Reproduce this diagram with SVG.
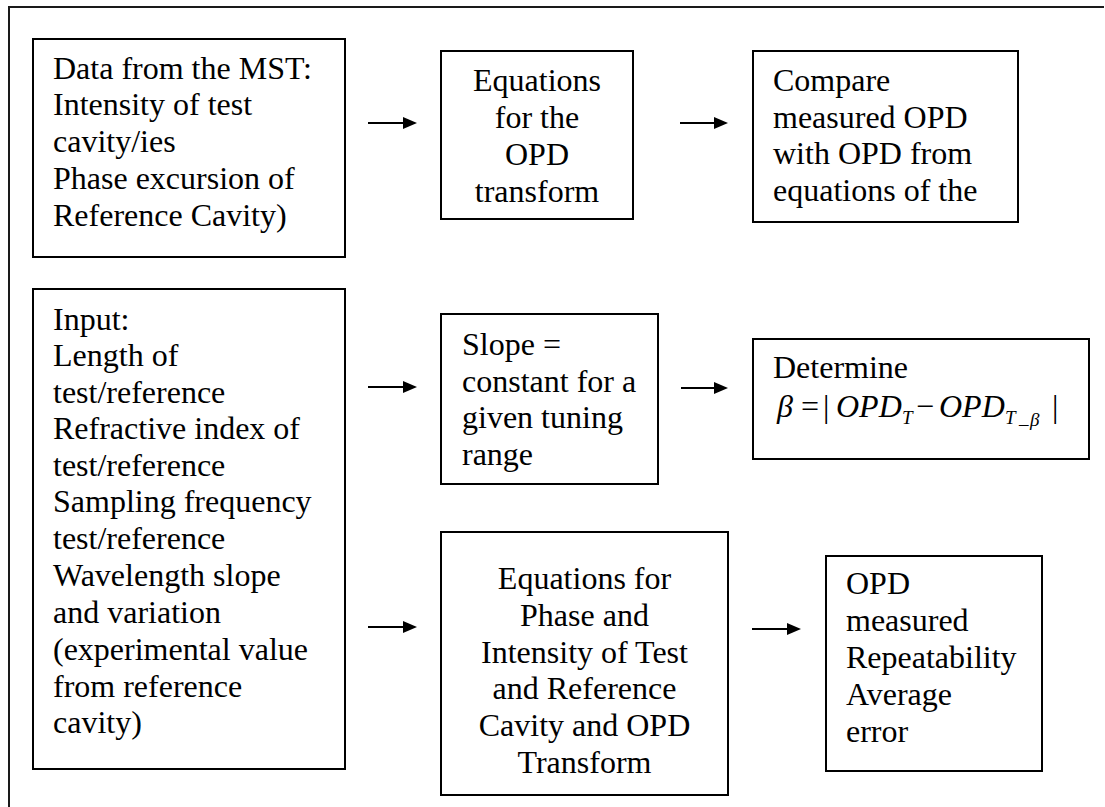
<svg xmlns="http://www.w3.org/2000/svg" width="1105" height="807" viewBox="0 0 1105 807">
  <style>
    .box { fill: #ffffff; stroke: #000000; stroke-width: 2; }
    .frame { fill: none; stroke: #1a1a1a; stroke-width: 2; }
    text { font-family: 'Liberation Serif', 'Times New Roman', Times, 'DejaVu Serif', serif; fill: #000000; }
    .t { font-size: 32px; }
    .c { text-anchor: middle; }
    .m { font-size: 32px; font-style: italic; }
    .mu { font-size: 32px; }
    .sub { font-size: 19px; font-style: italic; }
    .conn { stroke: #000000; stroke-width: 2; fill: none; }
  </style>
  <defs>
    <marker id="head" markerUnits="userSpaceOnUse" markerWidth="14" markerHeight="12" refX="8" refY="6" orient="auto" viewBox="0 0 14 12">
      <path d="M0,0 L14,6 L0,12 z" fill="#000000"/>
    </marker>
  </defs>

  <rect width="1105" height="807" fill="#ffffff"/>

  <!-- outer frame (top and left edges) -->
  <polyline class="frame" points="9,807 9,7 1104,7"/>

  <g id="mst-data">
    <rect class="box" x="33" y="39" width="312" height="218"/>
    <text class="t" x="53" y="79">Data from the MST:</text>
    <text class="t" x="53" y="115">Intensity of test</text>
    <text class="t" x="53" y="152">cavity/ies</text>
    <text class="t" x="53" y="189">Phase excursion of</text>
    <text class="t" x="53" y="226">Reference Cavity)</text>
  </g>

  <g id="opd-transform">
    <rect class="box" x="441" y="51" width="192" height="168"/>
    <text class="t c" x="537" y="91">Equations</text>
    <text class="t c" x="537" y="128">for the</text>
    <text class="t c" x="537" y="165">OPD</text>
    <text class="t c" x="537" y="202">transform</text>
  </g>

  <g id="compare">
    <rect class="box" x="753" y="51" width="265" height="171"/>
    <text class="t" x="773" y="91">Compare</text>
    <text class="t" x="773" y="128">measured OPD</text>
    <text class="t" x="773" y="164">with OPD from</text>
    <text class="t" x="773" y="201">equations of the</text>
  </g>

  <g id="input">
    <rect class="box" x="33" y="289" width="312" height="480"/>
    <text class="t" x="53" y="330">Input:</text>
    <text class="t" x="53" y="366">Length of</text>
    <text class="t" x="53" y="403">test/reference</text>
    <text class="t" x="53" y="439">Refractive index of</text>
    <text class="t" x="53" y="476">test/reference</text>
    <text class="t" x="53" y="512">Sampling frequency</text>
    <text class="t" x="53" y="549">test/reference</text>
    <text class="t" x="53" y="586">Wavelength slope</text>
    <text class="t" x="53" y="623">and variation</text>
    <text class="t" x="53" y="660">(experimental value</text>
    <text class="t" x="53" y="697">from reference</text>
    <text class="t" x="53" y="733">cavity)</text>
  </g>

  <g id="slope">
    <rect class="box" x="441" y="314" width="217" height="170"/>
    <text class="t" x="462" y="355">Slope =</text>
    <text class="t" x="462" y="392">constant for a</text>
    <text class="t" x="462" y="428">given tuning</text>
    <text class="t" x="462" y="465">range</text>
  </g>

  <g id="determine">
    <rect class="box" x="753" y="339" width="336" height="120"/>
    <text class="t" x="773" y="378">Determine</text>
    <text class="m" x="777" y="417">β</text>
    <text class="mu" x="801" y="417">=</text>
    <text class="mu" x="823" y="417">|</text>
    <text class="m" x="836" y="417">OPD</text>
    <text class="sub" x="902" y="424">T</text>
    <text class="mu" x="916" y="417">−</text>
    <text class="m" x="939" y="417">OPD</text>
    <text class="sub" x="1005" y="424">T</text>
    <text class="sub" x="1019" y="424">_</text>
    <text class="sub" x="1030" y="426">β</text>
    <text class="mu" x="1052" y="417">|</text>
  </g>

  <g id="phase-intensity">
    <rect class="box" x="441" y="532" width="287" height="263"/>
    <text class="t c" x="584.5" y="589">Equations for</text>
    <text class="t c" x="584.5" y="626">Phase and</text>
    <text class="t c" x="584.5" y="663">Intensity of Test</text>
    <text class="t c" x="584.5" y="699">and Reference</text>
    <text class="t c" x="584.5" y="736">Cavity and OPD</text>
    <text class="t c" x="584.5" y="773">Transform</text>
  </g>

  <g id="results">
    <rect class="box" x="826" y="556" width="216" height="215"/>
    <text class="t" x="846" y="594">OPD</text>
    <text class="t" x="846" y="631">measured</text>
    <text class="t" x="846" y="668">Repeatability</text>
    <text class="t" x="846" y="705">Average</text>
    <text class="t" x="846" y="742">error</text>
  </g>

  <g id="connectors">
    <line class="conn" x1="368" y1="123" x2="411" y2="123" marker-end="url(#head)"/>
    <line class="conn" x1="680" y1="123" x2="722" y2="123" marker-end="url(#head)"/>
    <line class="conn" x1="368" y1="387" x2="411" y2="387" marker-end="url(#head)"/>
    <line class="conn" x1="681" y1="388" x2="722" y2="388" marker-end="url(#head)"/>
    <line class="conn" x1="368" y1="627" x2="411" y2="627" marker-end="url(#head)"/>
    <line class="conn" x1="752" y1="629" x2="795" y2="629" marker-end="url(#head)"/>
  </g>
</svg>
